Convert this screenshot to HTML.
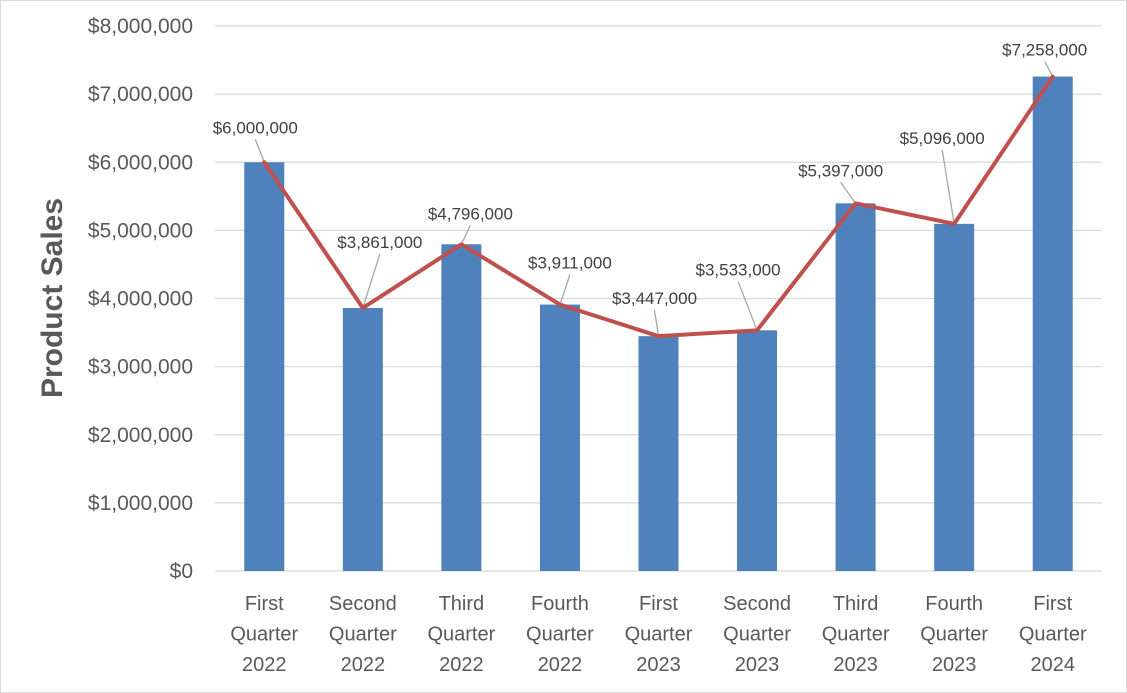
<!DOCTYPE html>
<html><head><meta charset="utf-8"><style>
html,body{margin:0;padding:0;background:#fff;}
svg{display:block;font-family:"Liberation Sans",sans-serif;}
</style></head><body>
<svg id="chart" width="1127" height="693" viewBox="0 0 1127 693">
<rect x="0.5" y="0.5" width="1126" height="692" fill="#fff" stroke="#d9d9d9"/>
<text transform="translate(62,298) rotate(-90)" text-anchor="middle" font-size="30" font-weight="bold" fill="#595959">Product Sales</text>
<g id="grid"></g><g id="bars"></g><g id="leaders"></g><g id="line"></g><g id="labels"></g><g id="yticks"></g><g id="xticks"></g>
</svg>
<script>
const categories=[["First","Quarter","2022"],["Second","Quarter","2022"],["Third","Quarter","2022"],["Fourth","Quarter","2022"],["First","Quarter","2023"],["Second","Quarter","2023"],["Third","Quarter","2023"],["Fourth","Quarter","2023"],["First","Quarter","2024"]];
const sales=[6000000,3861000,4796000,3911000,3447000,3533000,5397000,5096000,7258000];
const yTicks=[0,1000000,2000000,3000000,4000000,5000000,6000000,7000000,8000000];
const labelDx=[-9,17,9,10,-4,-19,-15,-12,-8];
const labelDy=[-35,-66,-31,-42,-38,-61,-33,-86,-27];
const NS="http://www.w3.org/2000/svg";
const L=215,R=1102,T=26,B=571,yMax=8000000;
const bw=(R-L)/categories.length;
function xs(i){return L+(i+0.5)*bw;}
function ys(v){return B-(v/yMax)*(B-T);}
function mk(p,tag,a){const e=document.createElementNS(NS,tag);for(const k in a)e.setAttribute(k,a[k]);document.getElementById(p).appendChild(e);return e;}
function fmt(v){return "$"+v.toLocaleString("en-US");}
yTicks.forEach((t,i)=>{
 const g=mk("grid","line",{x1:L,x2:R,y1:ys(t),y2:ys(t),stroke:"#d9d9d9","stroke-width":1.3});
 
 
 const tx=mk("yticks","text",{x:193,y:ys(t)+7,"text-anchor":"end","font-size":21,fill:"#595959"});
 tx.textContent=fmt(t);
 
 
});
let pts=[];
sales.forEach((v,i)=>{
 const x=xs(i),y=ys(v);
 const b=mk("bars","rect",{x:x-20,y:y,width:40,height:B-y,fill:"#4f81bd"});
 
 
 pts.push(x+","+y);
 const lx=x+labelDx[i],ly=y+labelDy[i];
 const ld=mk("leaders","line",{x1:lx,y1:ly+12,x2:x,y2:y,stroke:"#a6a6a6","stroke-width":1.3});
 
 
 const t=mk("labels","text",{x:lx,y:ly+6,"text-anchor":"middle","font-size":17,fill:"#404040"});
 t.textContent=fmt(v);
 
 
 categories[i].forEach((s,j)=>{
  const c=mk("xticks","text",{x:x,y:610+j*30.5,"text-anchor":"middle","font-size":20,fill:"#595959"});
  c.textContent=s;
  
  
 });
});
const pl=mk("line","polyline",{points:pts.join(" "),fill:"none",stroke:"#c0504d","stroke-width":4,"stroke-linejoin":"round","stroke-linecap":"round"});


</script>
</body></html>
